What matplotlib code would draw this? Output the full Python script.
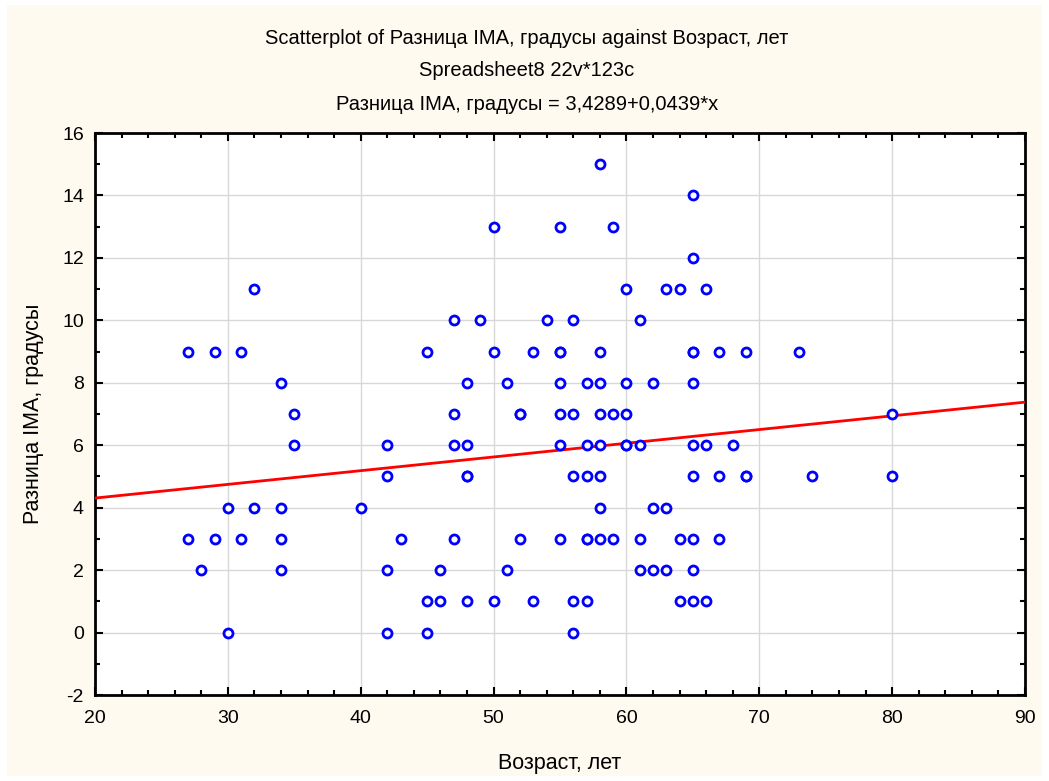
import matplotlib
matplotlib.use("Agg")
import matplotlib.pyplot as plt
from matplotlib.patches import Rectangle
from matplotlib.ticker import MultipleLocator
import numpy as np

plt.rcParams['font.family'] = ['Liberation Sans', 'DejaVu Sans']
plt.rcParams['axes.unicode_minus'] = False

# Data: age (years) and IMA difference (degrees)
age = [27, 27, 28, 29, 29, 30, 30, 31, 31, 32, 32, 34, 34, 34, 34, 35, 35,
       40, 42, 42, 42, 42, 43, 45, 45, 45, 46, 46, 47, 47, 47, 47,
       48, 48, 48, 48, 48, 49, 50, 50, 50, 51, 51, 52, 52, 52, 53, 53, 54,
       55, 55, 55, 55, 55, 55, 55, 56, 56, 56, 56, 56, 57, 57, 57, 57, 57, 57,
       58, 58, 58, 58, 58, 58, 58, 58, 59, 59, 59, 60, 60, 60, 60, 60,
       61, 61, 61, 61, 62, 62, 62, 63, 63, 63, 64, 64, 64,
       65, 65, 65, 65, 65, 65, 65, 65, 65, 65, 66, 66, 66, 67, 67, 67,
       68, 69, 69, 69, 73, 74, 80, 80]
ima = [9, 3, 2, 9, 3, 4, 0, 9, 3, 11, 4, 8, 4, 3, 2, 7, 6,
       4, 6, 5, 2, 0, 3, 9, 1, 0, 2, 1, 10, 7, 6, 3,
       8, 6, 5, 5, 1, 10, 13, 9, 1, 8, 2, 7, 7, 3, 9, 1, 10,
       13, 9, 9, 8, 7, 6, 3, 10, 7, 5, 1, 0, 8, 6, 5, 3, 3, 1,
       15, 9, 8, 7, 6, 5, 4, 3, 13, 7, 3, 11, 8, 7, 6, 6,
       10, 6, 3, 2, 8, 4, 2, 11, 4, 2, 11, 3, 1,
       14, 12, 9, 9, 8, 6, 5, 3, 2, 1, 11, 6, 1, 9, 5, 3,
       6, 9, 5, 5, 9, 5, 7, 5]

# Regression coefficients as printed in the chart heading
intercept = 3.4289
slope = 0.0439

title_lines = ["Scatterplot of Разница IMA, градусы against Возраст, лет",
               "Spreadsheet8 22v*123c",
               "Разница IMA, градусы = 3,4289+0,0439*x"]
xlabel = "Возраст, лет"
ylabel = "Разница IMA, градусы"

W, H = 1049, 781
fig = plt.figure(figsize=(W / 100, H / 100), dpi=100, facecolor='white')
fig.patches.append(Rectangle((7 / W, 5 / H), (1042 - 7) / W, (776 - 5) / H,
                             transform=fig.transFigure, facecolor='#fefaef',
                             edgecolor='none', zorder=-10))

ax = fig.add_axes([95 / W, 1 - 695 / H, (1025 - 95) / W, (695 - 133) / H])
ax.set_facecolor('white')
ax.set_xlim(20, 90)
ax.set_ylim(-2, 16)
ax.xaxis.set_major_locator(MultipleLocator(10))
ax.xaxis.set_minor_locator(MultipleLocator(2))
ax.yaxis.set_major_locator(MultipleLocator(2))
ax.yaxis.set_minor_locator(MultipleLocator(1))
ax.grid(True, which='major', color='#d8d8d8', linewidth=1.0, zorder=0)
ax.set_axisbelow(True)
ax.tick_params(which='both', direction='in', top=True, right=True,
               colors='black', labelsize=14, width=1.5)
ax.tick_params(which='major', length=6)
ax.tick_params(axis='x', which='major', pad=11)
ax.tick_params(axis='y', which='major', pad=8)
ax.tick_params(which='minor', length=3.5)
for s in ax.spines.values():
    s.set_linewidth(2)

xs = np.array([20, 90])
ax.plot(xs, intercept + slope * xs, color='#ff0000', linewidth=2, zorder=3)
ax.plot(age, ima, linestyle='none', marker='o', markersize=6.5,
        markerfacecolor='white', markeredgecolor='#0000ff',
        markeredgewidth=2, zorder=4, clip_on=False)

ax.set_xlabel(xlabel, fontsize=15.5, va='center')
ax.set_ylabel(ylabel, fontsize=15.5, va='center')
ax.xaxis.set_label_coords(0.5, (695 - 763) / 562)
ax.yaxis.set_label_coords((34 - 95) / 930, 0.5)

for i, t in enumerate(title_lines):
    fig.text(527 / W, 1 - (38 + 33 * i) / H, t, ha='center', va='center',
             fontsize=14.5)

fig.savefig("out.png", dpi=100, facecolor=fig.get_facecolor())
